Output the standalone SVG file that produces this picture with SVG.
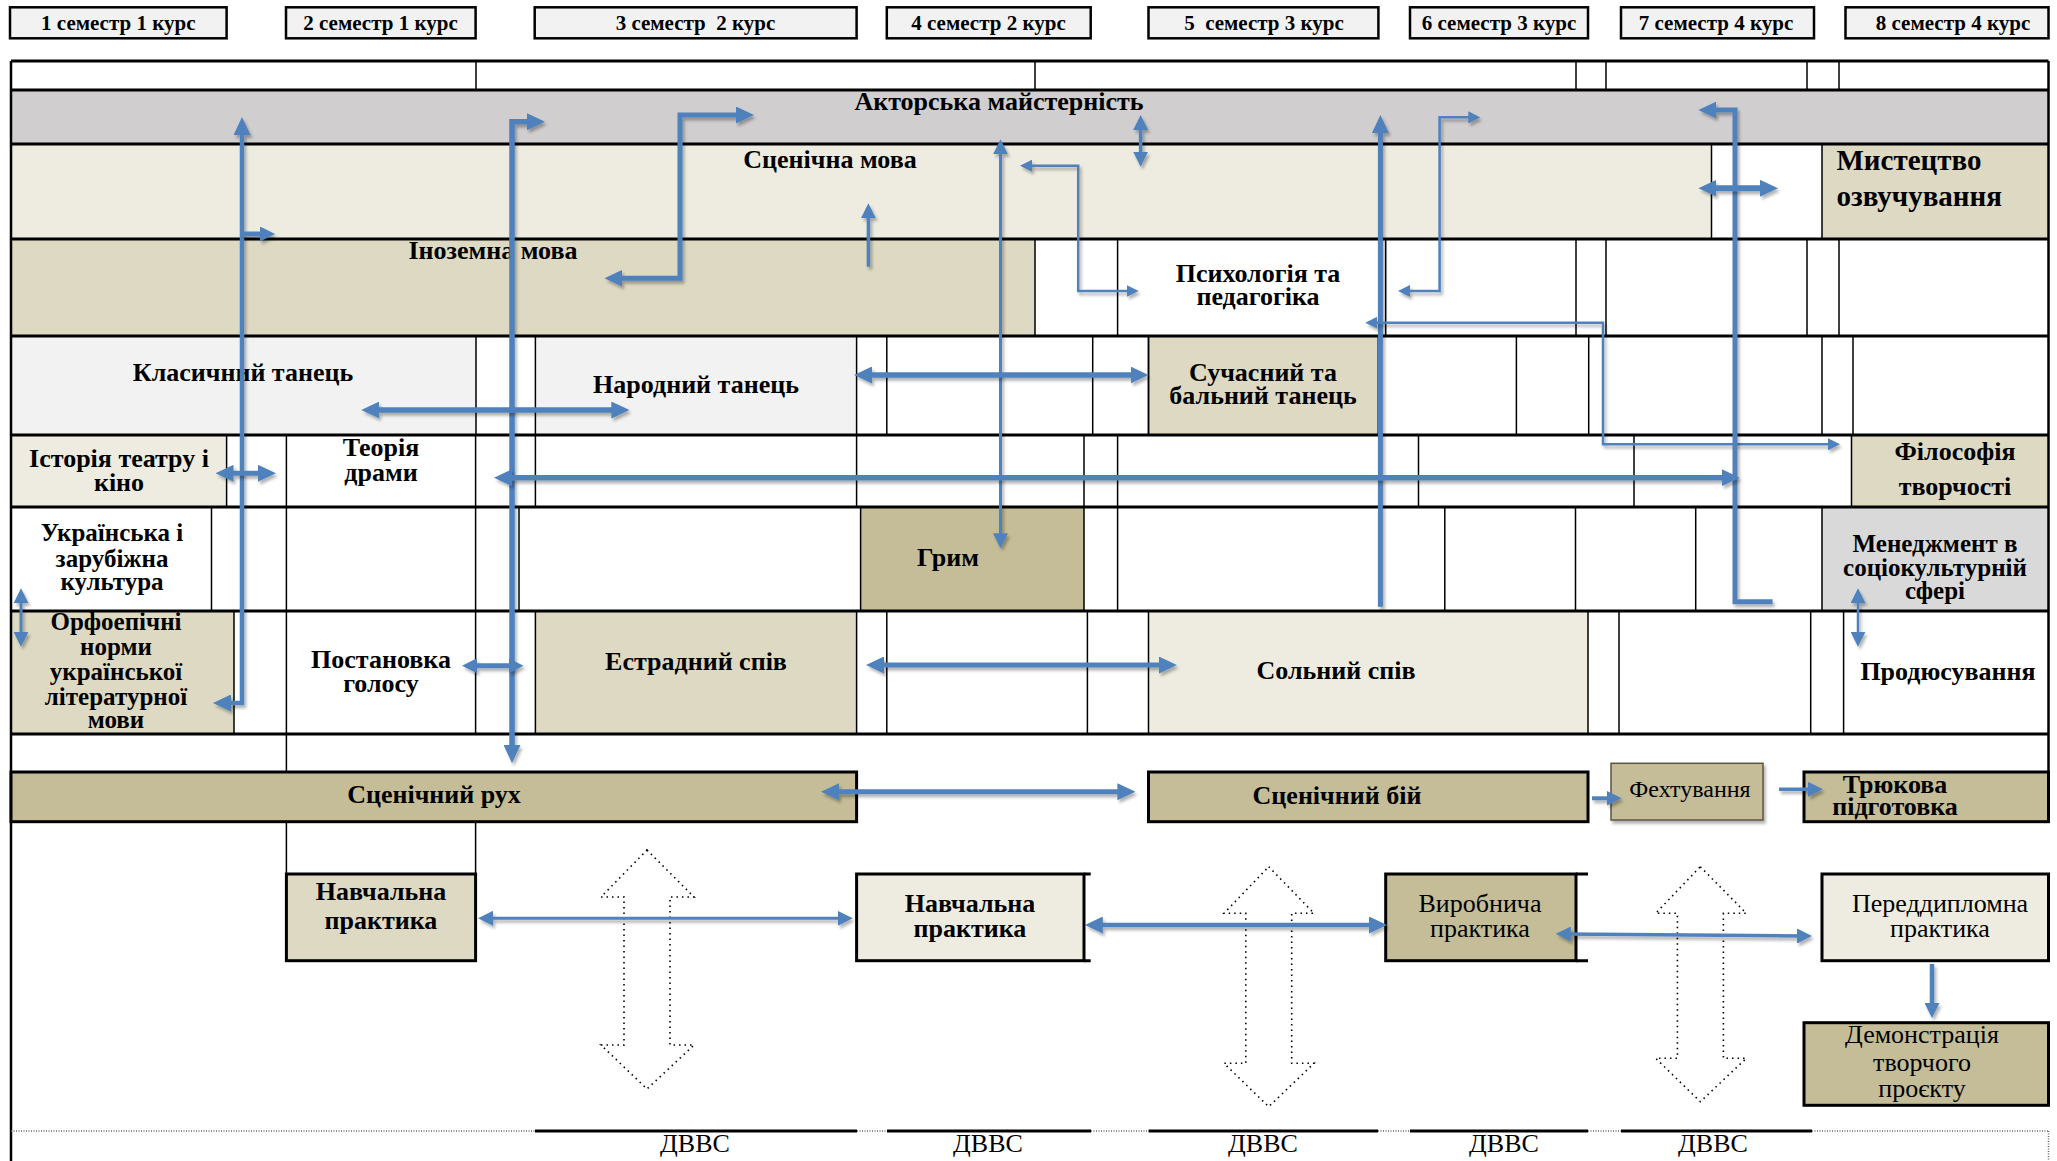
<svg xmlns="http://www.w3.org/2000/svg" width="2057" height="1161" viewBox="0 0 2057 1161">
<style>
.t{font-family:"Liberation Serif","Times New Roman",serif;font-weight:bold;font-size:26px;text-anchor:middle;fill:#000}
.r{font-weight:normal}
.sem{font-size:21px}
.m{font-size:25px}
.v{stroke:#000;stroke-width:1.5;fill:none}
.h{stroke:#000;stroke-width:3;fill:none}
.bx{stroke:#000;stroke-width:3}
.a{fill:none;stroke:#4F81BD;stroke-width:5;filter:url(#sh)}
.a3{stroke-width:3}
.a25{stroke-width:2.5}
.dot{fill:none;stroke:#000;stroke-width:1.6;stroke-dasharray:1.5 4}
.dl{stroke:#666;stroke-width:1.5;stroke-dasharray:1 1.5;fill:none}
</style>
<defs>
<filter id="sh" filterUnits="userSpaceOnUse" x="0" y="0" width="2057" height="1161"><feDropShadow dx="2" dy="3" stdDeviation="1.5" flood-color="#000" flood-opacity="0.3"/></filter>
<marker id="hb" markerUnits="userSpaceOnUse" markerWidth="18" markerHeight="17" refX="9" refY="8.5" orient="auto-start-reverse" viewBox="0 0 18 17"><path d="M0,0 L18,8.5 L0,17 z" fill="#4F81BD"/></marker>
<marker id="hm" markerUnits="userSpaceOnUse" markerWidth="15" markerHeight="15" refX="7.5" refY="7.5" orient="auto-start-reverse" viewBox="0 0 15 15"><path d="M0,0 L15,7.5 L0,15 z" fill="#4F81BD"/></marker>
<marker id="hs" markerUnits="userSpaceOnUse" markerWidth="12" markerHeight="12" refX="6" refY="6" orient="auto-start-reverse" viewBox="0 0 12 12"><path d="M0,0 L12,6 L0,12 z" fill="#4F81BD"/></marker>
</defs>
<rect width="2057" height="1161" fill="#fff"/>

<g id="semesters">
<g id="sem1"><rect x="10" y="7.3" width="216.6" height="31" fill="#F2F2F2" stroke="#000" stroke-width="2.5"/><text class="t sem" x="118.3" y="29.5">1 семестр 1 курс</text></g>
<g id="sem2"><rect x="286" y="7.3" width="189.6" height="31" fill="#F2F2F2" stroke="#000" stroke-width="2.5"/><text class="t sem" x="380.5" y="29.5">2 семестр 1 курс</text></g>
<g id="sem3"><rect x="534.7" y="7.3" width="321.9" height="31" fill="#F2F2F2" stroke="#000" stroke-width="2.5"/><text class="t sem" x="695.5" y="29.5" xml:space="preserve">3 семестр  2 курс</text></g>
<g id="sem4"><rect x="886.8" y="7.3" width="203.9" height="31" fill="#F2F2F2" stroke="#000" stroke-width="2.5"/><text class="t sem" x="988.5" y="29.5">4 семестр 2 курс</text></g>
<g id="sem5"><rect x="1148.5" y="7.3" width="229.9" height="31" fill="#F2F2F2" stroke="#000" stroke-width="2.5"/><text class="t sem" x="1264" y="29.5" xml:space="preserve">5  семестр 3 курс</text></g>
<g id="sem6"><rect x="1410" y="7.3" width="178" height="31" fill="#F2F2F2" stroke="#000" stroke-width="2.5"/><text class="t sem" x="1499" y="29.5">6 семестр 3 курс</text></g>
<g id="sem7"><rect x="1621" y="7.3" width="193" height="31" fill="#F2F2F2" stroke="#000" stroke-width="2.5"/><text class="t sem" x="1716" y="29.5">7 семестр 4 курс</text></g>
<g id="sem8"><rect x="1845.5" y="7.3" width="203" height="31" fill="#F2F2F2" stroke="#000" stroke-width="2.5"/><text class="t sem" x="1953" y="29.5">8 семестр 4 курс</text></g>
</g>

<g id="fills">
<rect id="f-aktor" x="11" y="90" width="2037.5" height="54" fill="#D0CECE"/>
<rect x="11" y="144" width="1700.5" height="95" fill="#EEECE1"/>
<rect x="1822" y="144" width="226.5" height="95" fill="#DDD9C3"/>
<rect x="11" y="239" width="1024" height="97" fill="#DDD9C3"/>
<rect x="11" y="336" width="465" height="99" fill="#F2F2F2"/>
<rect x="535.4" y="336" width="321.2" height="99" fill="#F2F2F2"/>
<rect x="1148.5" y="336" width="230" height="99" fill="#DDD9C3"/>
<rect x="11" y="435" width="215.6" height="72" fill="#EEECE1"/>
<rect x="1851.5" y="435" width="197" height="72" fill="#DDD9C3"/>
<rect x="860.6" y="507" width="223.4" height="104" fill="#C4BD97"/>
<rect x="1822" y="507" width="226.5" height="104" fill="#D9D9D9"/>
<rect x="11" y="611" width="223" height="123" fill="#DDD9C3"/>
<rect x="535.4" y="611" width="321.2" height="123" fill="#DDD9C3"/>
<rect x="1148.5" y="611" width="439.5" height="123" fill="#EEECE1"/>
</g>

<g id="grid">
<path class="h" d="M11,61H2048.5 M11,90H2048.5 M11,144H2048.5 M11,239H2048.5 M11,336H2048.5 M11,435H2048.5 M11,507H2048.5 M11,611H2048.5 M11,734H2048.5"/>
<path class="v" d="M476,61V90 M1035,61V90 M1576,61V90 M1606,61V90 M1807,61V90 M1839,61V90
M1711.5,144V239 M1822,144V239
M1035,239V336 M1117.6,239V336 M1385.7,239V336 M1576,239V336 M1606,239V336 M1807,239V336 M1839,239V336
M476,336V435 M535.4,336V435 M856.6,336V435 M886.8,336V435 M1092.7,336V435 M1148.5,336V435 M1378.4,336V435 M1516.4,336V435 M1588.7,336V435 M1822,336V435 M1853,336V435
M226.6,435V507 M286.4,435V507 M475.6,435V507 M535.4,435V507 M856.6,435V507 M1084,435V507 M1117.6,435V507 M1418.5,435V507 M1634,435V507 M1851.5,435V507
M211.5,507V611 M286.4,507V611 M475.6,507V611 M519,507V611 M860.6,507V611 M1084,507V611 M1117.6,507V611 M1444.8,507V611 M1575.5,507V611 M1695.7,507V611 M1822,507V611
M234,611V734 M286.4,611V734 M475.6,611V734 M535.4,611V734 M856.6,611V734 M886.8,611V734 M1087.4,611V734 M1148.5,611V734 M1588,611V734 M1619,611V734 M1810.7,611V734 M1843.6,611V734
M286.4,734V772 M286.4,821.7V874 M475.6,821.7V874"/>
<path d="M11,61V1161 M2048.5,61V772" stroke="#000" stroke-width="2.5" fill="none"/>
<path d="M535,1131H857 M887,1131H1091 M1148.5,1131H1378 M1410,1131H1588 M1621,1131H1812" stroke="#000" stroke-width="3"/>
<path class="dl" d="M11,1131H535 M857,1131H887 M1091,1131H1148.5 M1378,1131H1410 M1588,1131H1621 M1812,1131H2048 M2048.5,1131V1161"/>
</g>

<g id="n-aktor"><text class="t" x="999" y="110">Акторська майстерність</text></g>
<g id="n-scenmova"><text class="t" x="830" y="168">Сценічна мова</text></g>
<g id="n-inozem"><text class="t" x="493" y="259">Іноземна мова</text></g>
<g id="n-mystetstvo"><text class="t" x="1836.5" y="170" style="text-anchor:start;font-size:29px">Мистецтво</text><text class="t" x="1836.5" y="206" style="text-anchor:start;font-size:29px">озвучування</text></g>
<g id="n-psykh"><text class="t" x="1258" y="282">Психологія та</text><text class="t" x="1258" y="305">педагогіка</text></g>
<g id="n-klas"><text class="t" x="243" y="381">Класичний танець</text></g>
<g id="n-narod"><text class="t" x="696" y="393">Народний танець</text></g>
<g id="n-suchas"><rect x="1148.5" y="336" width="230" height="99" fill="none" stroke="#000" stroke-width="1.5"/><text class="t" x="1263" y="381">Сучасний та</text><text class="t" x="1263" y="404">бальний танець</text></g>
<g id="n-istoria"><text class="t" x="119" y="467">Історія театру і</text><text class="t" x="119" y="491">кіно</text></g>
<g id="n-teoria"><text class="t" x="381" y="456">Теорія</text><text class="t" x="381" y="481">драми</text></g>
<g id="n-filosof"><text class="t" x="1955" y="460">Філософія</text><text class="t" x="1955" y="495">творчості</text></g>
<g id="n-ukr"><text class="t m" x="112" y="541">Українська і</text><text class="t m" x="112" y="567">зарубіжна</text><text class="t m" x="112" y="590">культура</text></g>
<g id="n-grym"><text class="t" x="948" y="566">Грим</text></g>
<g id="n-menedzh"><text class="t m" x="1935" y="552">Менеджмент в</text><text class="t m" x="1935" y="576">соціокультурній</text><text class="t m" x="1935" y="599">сфері</text></g>
<g id="n-orfo"><text class="t m" x="116" y="630">Орфоепічні</text><text class="t m" x="116" y="655">норми</text><text class="t m" x="116" y="680">української</text><text class="t m" x="116" y="705">літературної</text><text class="t m" x="116" y="728">мови</text></g>
<g id="n-postan"><text class="t" x="381" y="668">Постановка</text><text class="t" x="381" y="692">голосу</text></g>
<g id="n-estr"><text class="t" x="696" y="670">Естрадний спів</text></g>
<g id="n-soln"><text class="t" x="1336" y="679">Сольний спів</text></g>
<g id="n-prod"><text class="t" x="1948" y="680">Продюсування</text></g>

<g id="n-scenrukh"><rect class="bx" x="11" y="772" width="845.6" height="49.7" fill="#C4BD97"/><text class="t" x="434" y="803">Сценічний рух</text></g>
<g id="n-scenbii"><rect class="bx" x="1148.5" y="772" width="439.5" height="49.7" fill="#C4BD97"/><text class="t" x="1337" y="804">Сценічний бій</text></g>
<g id="n-fekht"><rect x="1611" y="763.3" width="152" height="56.7" fill="#C4BD97" stroke="#5a5640" stroke-width="1.5" filter="url(#sh)"/><text class="t r" x="1690" y="797" style="font-size:24px">Фехтування</text></g>
<g id="n-triuk"><rect class="bx" x="1804" y="772" width="244.5" height="49.7" fill="#C4BD97"/><text class="t" x="1895" y="793">Трюкова</text><text class="t" x="1895" y="815">підготовка</text></g>
<g id="n-navch1"><rect class="bx" x="286.4" y="874" width="189.2" height="86.7" fill="#DDD9C3"/><text class="t" x="381" y="900">Навчальна</text><text class="t" x="381" y="929">практика</text></g>
<g id="n-navch2"><rect class="bx" x="856.6" y="874" width="227.4" height="86.7" fill="#EEECE1"/><path d="M1084,874H1090.7 M1084,960.7H1090.7" stroke="#000" stroke-width="3"/><text class="t" x="970" y="912">Навчальна</text><text class="t" x="970" y="937">практика</text></g>
<g id="n-vyrob"><rect class="bx" x="1385.7" y="874" width="190.3" height="86.7" fill="#C4BD97"/><path d="M1576,874H1588 M1576,960.7H1588" stroke="#000" stroke-width="3"/><text class="t r" x="1480" y="912">Виробнича</text><text class="t r" x="1480" y="937">практика</text></g>
<g id="n-peredd"><rect class="bx" x="1822" y="874" width="226.5" height="86.7" fill="#EEECE1"/><text class="t r" x="1940" y="912">Переддипломна</text><text class="t r" x="1940" y="937">практика</text></g>
<g id="n-demo"><rect class="bx" x="1804" y="1022.7" width="244.5" height="82.6" fill="#C4BD97"/><text class="t r" x="1922" y="1043">Демонстрація</text><text class="t r" x="1922" y="1071">творчого</text><text class="t r" x="1922" y="1097">проєкту</text></g>

<g id="dvvs">
<polygon class="dot" points="647,850 694,897 670,897 670,1045 694,1045 647,1089 601,1045 624,1045 624,897 601,897"/>
<polygon class="dot" points="1268.7,866.7 1314,913.3 1291.7,913.3 1291.7,1063.3 1314,1063.3 1268.7,1106.7 1224,1063.3 1245.8,1063.3 1245.8,913.3 1224,913.3"/>
<polygon class="dot" points="1700.3,866.7 1746.3,913.3 1723.4,913.3 1723.4,1058.3 1746.3,1058.3 1700.3,1101.7 1655.7,1058.3 1677.4,1058.3 1677.4,913.3 1655.7,913.3"/>
<text class="t r" x="695" y="1152">ДВВС</text>
<text class="t r" x="988" y="1152">ДВВС</text>
<text class="t r" x="1263" y="1152">ДВВС</text>
<text class="t r" x="1504" y="1152">ДВВС</text>
<text class="t r" x="1713" y="1152">ДВВС</text>
</g>

<g id="connectors">
<path class="a" style="stroke-width:4.5" d="M242,126V703H222" marker-start="url(#hb)" marker-end="url(#hb)"/>
<path class="a" d="M242,234H267.5" marker-end="url(#hm)"/>
<path class="a" style="stroke-width:5.5" d="M512,754V121.7H536" marker-start="url(#hb)" marker-end="url(#hb)"/>
<path class="a" d="M469.5,665.7H516" marker-start="url(#hm)" marker-end="url(#hm)"/>
<path class="a" d="M613.4,278.3H680V115H745" marker-start="url(#hb)" marker-end="url(#hb)"/>
<path class="a" style="stroke-width:3.5" d="M868.4,266.7V210.8" marker-end="url(#hm)"/>
<path class="a a3" d="M1000.5,146.8V540.8" marker-start="url(#hm)" marker-end="url(#hm)"/>
<path class="a a25" d="M1026,165.7H1078.2V291H1132.7" marker-start="url(#hs)" marker-end="url(#hs)"/>
<path class="a" style="stroke-width:3.5" d="M1140.6,122.5V159.2" marker-start="url(#hm)" marker-end="url(#hm)"/>
<path class="a" d="M1380.4,606.7V124" marker-end="url(#hb)"/>
<path class="a a25" d="M1404,291H1439.6V117.3H1474.3" marker-start="url(#hs)" marker-end="url(#hs)"/>
<path class="a a25" d="M1371.3,322.7H1603V444.3H1834" marker-start="url(#hs)" marker-end="url(#hs)"/>
<path class="a" d="M1772.6,601.7H1735V110H1707.4" marker-end="url(#hb)"/>
<path class="a" style="stroke-width:6" d="M1707.4,188.3H1769" marker-start="url(#hb)" marker-end="url(#hb)"/>
<path class="a" style="stroke-width:5.5" d="M370.3,410H620.3" marker-start="url(#hb)" marker-end="url(#hb)"/>
<path class="a" d="M224.5,473.3H267" marker-start="url(#hb)" marker-end="url(#hb)"/>
<path class="a" style="stroke-width:5.5" d="M503,477.7H1730.7" marker-start="url(#hb)" marker-end="url(#hb)"/>
<path class="a" style="stroke-width:5.5" d="M863,375H1139.5" marker-start="url(#hb)" marker-end="url(#hb)"/>
<path class="a a3" d="M21,595.8V639.2" marker-start="url(#hm)" marker-end="url(#hm)"/>
<path class="a" d="M875,665H1167.8" marker-start="url(#hb)" marker-end="url(#hb)"/>
<path class="a" d="M830,791.7H1126.4" marker-start="url(#hb)" marker-end="url(#hb)"/>
<path class="a a25" d="M1858,595.8V639.2" marker-start="url(#hm)" marker-end="url(#hm)"/>
<path class="a" style="stroke-width:4" d="M1592,798.3H1614.1" marker-end="url(#hm)"/>
<path class="a" style="stroke-width:3.5" d="M1779,789.3H1815.5" marker-end="url(#hm)"/>
<path class="a a3" d="M485.5,918.3H845.2" marker-start="url(#hm)" marker-end="url(#hm)"/>
<path class="a" style="stroke-width:4.5" d="M1093.8,925H1378" marker-start="url(#hb)" marker-end="url(#hb)"/>
<path class="a" style="stroke-width:3.5" d="M1563.3,934L1804.5,936" marker-start="url(#hm)" marker-end="url(#hm)"/>
<path class="a" style="stroke-width:4.5" d="M1932,964V1010.5" marker-end="url(#hm)"/>
</g>
</svg>
